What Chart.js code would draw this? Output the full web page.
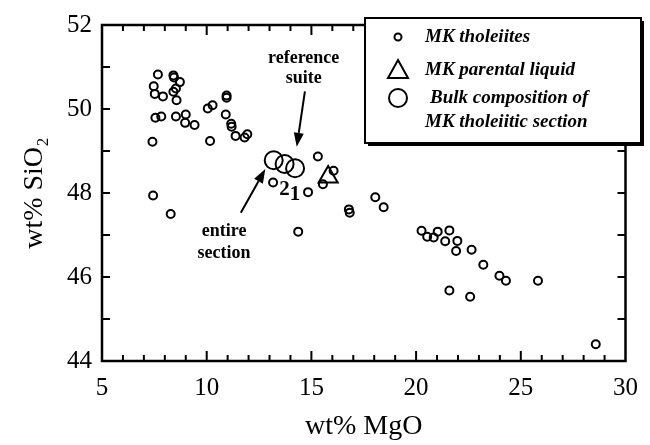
<!DOCTYPE html>
<html>
<head>
<meta charset="utf-8">
<script src="https://cdn.jsdelivr.net/npm/chart.js@4.4.1/dist/chart.umd.min.js"></script>
<style>
  html, body { margin: 0; padding: 0; background: #fff; }
  canvas { display: block; }
</style>
</head>
<body>
<canvas id="chart" width="650" height="445"></canvas>
<script>
// MK tholeiites
const tholMgO = [7.67, 8.41, 8.44, 8.72, 7.47, 8.41, 8.53, 7.52, 7.91, 8.56, 10.95, 10.95, 10.28, 10.05,
  7.55, 7.83, 8.53, 9.00, 8.97, 9.42, 10.91, 11.17, 11.19, 11.38, 11.81, 11.94, 7.41, 10.16,
  7.44, 8.28, 13.17, 14.84, 15.31, 16.06, 15.55, 16.79, 16.83, 18.05, 18.45, 14.37,
  20.26, 20.53, 20.84, 21.03, 21.59, 21.39, 21.97, 21.91, 22.65, 23.21, 23.98, 24.29, 25.82,
  21.59, 22.58, 28.58];
const tholSiO2 = [50.82, 50.80, 50.75, 50.64, 50.54, 50.41, 50.49, 50.36, 50.30, 50.21, 50.32, 50.27, 50.09, 50.01,
  49.79, 49.82, 49.82, 49.87, 49.67, 49.62, 49.87, 49.65, 49.58, 49.36, 49.32, 49.40, 49.22, 49.24,
  47.94, 47.50, 48.25, 48.02, 48.87, 48.53, 48.21, 47.61, 47.53, 47.90, 47.66, 47.08,
  47.10, 46.96, 46.94, 47.08, 47.11, 46.85, 46.86, 46.62, 46.65, 46.29, 46.03, 45.91, 45.91,
  45.68, 45.53, 44.40];

// MK parental liquid
const parentMgO = [15.8];
const parentSiO2 = [48.38];

// Bulk composition of MK tholeiitic section (entire section, 2, 1)
const bulkMgO = [13.20, 13.72, 14.22];
const bulkSiO2 = [48.78, 48.69, 48.59];
const bulkTags = ['', '2', '1'];

const xTicks = [5, 10, 15, 20, 25, 30];
const yTicks = [44, 46, 48, 50, 52];

const serif = "'Liberation Serif', 'Times New Roman', serif";

function pts(xs, ys) {
  return xs.map((v, i) => ({ x: v, y: ys[i] }));
}

function arrow(ctx, x1, y1, x2, y2) {
  const ang = Math.atan2(y2 - y1, x2 - x1);
  const hl = 14, hw = 5;
  ctx.beginPath();
  ctx.moveTo(x1, y1);
  ctx.lineTo(x2 - hl * Math.cos(ang), y2 - hl * Math.sin(ang));
  ctx.lineWidth = 2;
  ctx.stroke();
  ctx.beginPath();
  ctx.moveTo(x2, y2);
  ctx.lineTo(x2 - hl * Math.cos(ang) + hw * Math.sin(ang), y2 - hl * Math.sin(ang) - hw * Math.cos(ang));
  ctx.lineTo(x2 - hl * Math.cos(ang) - hw * Math.sin(ang), y2 - hl * Math.sin(ang) + hw * Math.cos(ang));
  ctx.closePath();
  ctx.fill();
}

const overlay = {
  id: 'overlay',
  afterDatasetsDraw(chart) {
    const { ctx, chartArea: a, scales: { x, y } } = chart;
    ctx.save();
    ctx.strokeStyle = '#000';
    ctx.fillStyle = '#000';

    // inward tick marks on all four sides
    ctx.lineWidth = 2;
    ctx.beginPath();
    for (let v = 6; v < 30; v++) {
      const px = x.getPixelForValue(v);
      const len = v % 5 === 0 ? 10 : 6;
      ctx.moveTo(px, a.bottom); ctx.lineTo(px, a.bottom - len);
      ctx.moveTo(px, a.top); ctx.lineTo(px, a.top + len);
    }
    for (let v = 45; v < 52; v++) {
      const py = y.getPixelForValue(v);
      ctx.moveTo(a.left, py); ctx.lineTo(a.left + 8, py);
      ctx.moveTo(a.right, py); ctx.lineTo(a.right - 8, py);
    }
    ctx.stroke();

    // frame
    ctx.lineWidth = 2.5;
    ctx.strokeRect(a.left, a.top, a.width, a.height);

    // labels under bulk circles
    ctx.font = 'bold 21px ' + serif;
    ctx.textAlign = 'center';
    ctx.textBaseline = 'middle';
    bulkTags.forEach((t, i) => {
      if (!t) return;
      ctx.fillText(t, x.getPixelForValue(bulkMgO[i]), y.getPixelForValue(bulkSiO2[i]) + 26);
    });

    // annotations
    ctx.font = 'bold 18px ' + serif;
    ctx.fillText('reference', x.getPixelForValue(14.63), y.getPixelForValue(51.21));
    ctx.fillText('suite', x.getPixelForValue(14.63), y.getPixelForValue(50.72));
    arrow(ctx, x.getPixelForValue(14.69), y.getPixelForValue(50.42), x.getPixelForValue(14.30), y.getPixelForValue(49.10));

    ctx.fillText('entire', x.getPixelForValue(10.83), y.getPixelForValue(47.08));
    ctx.fillText('section', x.getPixelForValue(10.83), y.getPixelForValue(46.56));
    arrow(ctx, x.getPixelForValue(11.63), y.getPixelForValue(47.53), x.getPixelForValue(12.80), y.getPixelForValue(48.57));

    // legend box
    const lx = 365, ly = 18, lw = 276, lh = 125;
    ctx.fillStyle = '#fff';
    ctx.fillRect(lx, ly, lw, lh);
    ctx.fillStyle = '#000';
    ctx.fillRect(lx + 3, ly + lh, lw, 3);
    ctx.fillRect(lx + lw, ly + 3, 3, lh);
    ctx.lineWidth = 2;
    ctx.strokeRect(lx, ly, lw, lh);

    const mx = 398;
    ctx.lineWidth = 2;
    ctx.beginPath(); ctx.arc(mx, 37, 3.5, 0, Math.PI * 2); ctx.stroke();
    ctx.beginPath();
    ctx.moveTo(mx, 60); ctx.lineTo(mx + 10, 78); ctx.lineTo(mx - 10, 78); ctx.closePath(); ctx.stroke();
    ctx.beginPath(); ctx.arc(mx, 98, 9, 0, Math.PI * 2); ctx.stroke();

    ctx.font = 'italic bold 19px ' + serif;
    ctx.textAlign = 'left';
    ctx.fillText(chart.data.datasets[0].label, 425, 37);
    ctx.fillText(chart.data.datasets[1].label, 425, 70);
    ctx.fillText('Bulk composition of', 430, 98);
    ctx.fillText('MK tholeiitic section', 425, 122);
    ctx.restore();
  }
};

new Chart(document.getElementById('chart'), {
  type: 'scatter',
  data: {
    datasets: [
      {
        label: 'MK tholeiites',
        data: pts(tholMgO, tholSiO2),
        pointStyle: 'circle',
        pointRadius: 4,
        borderWidth: 2,
        borderColor: '#000',
        backgroundColor: 'rgba(0,0,0,0)'
      },
      {
        label: 'MK parental liquid',
        data: pts(parentMgO, parentSiO2),
        pointStyle: 'triangle',
        pointRadius: 11,
        borderWidth: 2,
        borderColor: '#000',
        backgroundColor: 'rgba(0,0,0,0)'
      },
      {
        label: 'Bulk composition of MK tholeiitic section',
        data: pts(bulkMgO, bulkSiO2),
        pointStyle: 'circle',
        pointRadius: 9,
        borderWidth: 2,
        borderColor: '#000',
        backgroundColor: 'rgba(0,0,0,0)'
      }
    ]
  },
  options: {
    responsive: false,
    animation: false,
    devicePixelRatio: 1,
    layout: { padding: { left: 0, right: 16, top: 23, bottom: 0 } },
    plugins: { legend: { display: false }, tooltip: { enabled: false } },
    scales: {
      x: {
        type: 'linear',
        min: 5, max: 30,
        afterBuildTicks: s => { s.ticks = xTicks.map(v => ({ value: v })); },
        afterFit: s => { s.height = 84; },
        grid: { display: false, drawTicks: false },
        border: { display: false },
        ticks: { color: '#000', font: { family: serif, size: 25 }, padding: 12, maxRotation: 0 },
        title: { display: true, text: 'wt% MgO', color: '#000', font: { family: serif, size: 28 }, padding: { top: 0, bottom: 2 } }
      },
      y: {
        type: 'linear',
        min: 44, max: 52,
        afterBuildTicks: s => { s.ticks = yTicks.map(v => ({ value: v })); },
        afterFit: s => { s.width = 102; },
        grid: { display: false, drawTicks: false },
        border: { display: false },
        ticks: { color: '#000', font: { family: serif, size: 25 }, padding: 10 },
        title: { display: true, text: 'wt% SiO₂', color: '#000', font: { family: serif, size: 28 }, padding: { top: 18, bottom: 0 } }
      }
    }
  },
  plugins: [overlay]
});
</script>
</body>
</html>
